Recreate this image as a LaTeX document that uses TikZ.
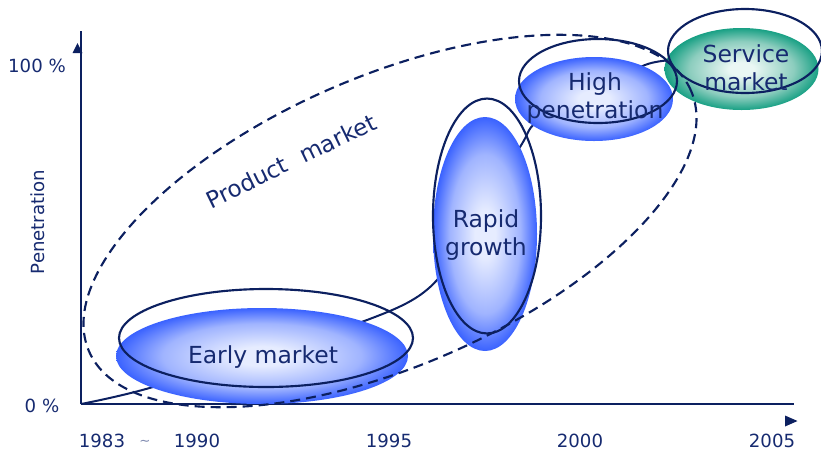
\documentclass[tikz,border=0pt]{standalone}
\usepackage{fontspec}
\setmainfont{DejaVu Sans}
\definecolor{navy}{RGB}{12,32,96}
\definecolor{txt}{RGB}{22,42,112}
\definecolor{bluein}{RGB}{230,236,255}
\definecolor{bluemid}{RGB}{160,180,255}
\definecolor{blueout}{RGB}{58,98,255}
\definecolor{tealin}{RGB}{234,247,244}
\definecolor{tealmid}{RGB}{140,205,190}
\definecolor{tealout}{RGB}{24,160,132}
\pgfdeclareradialshading{blueball}{\pgfpoint{0bp}{0bp}}{color(0bp)=(bluein); color(5bp)=(bluein); color(17bp)=(bluemid); color(25bp)=(blueout); color(50bp)=(blueout)}
\pgfdeclareradialshading{tealball}{\pgfpoint{0bp}{0bp}}{color(0bp)=(tealin); color(4bp)=(tealin); color(17bp)=(tealmid); color(25bp)=(tealout); color(50bp)=(tealout)}
\tikzset{
  outl/.style={draw=navy, line width=1.6pt},
  axisline/.style={draw=navy, line width=1.9pt},
  big/.style={text=txt, font=\fontsize{17.6}{21}\selectfont, align=center, inner sep=0pt},
  small/.style={text=txt, font=\fontsize{13.6}{16}\selectfont, inner sep=0pt},
}
\begin{document}
\begin{tikzpicture}[x=0.75pt,y=-0.75pt]
\useasboundingbox (0,0) rectangle (821,451);
% growth curve
\coordinate (c0) at (81,404);
\coordinate (c1) at (153,387);
\coordinate (c2) at (367,320);
\coordinate (c3) at (437,280);
\coordinate (c4) at (520,147);
\coordinate (c5) at (540,120);
\coordinate (c6) at (645,65);
\coordinate (c7) at (690,60);
\draw[navy, line width=1.5pt] plot[smooth, tension=0.4] coordinates {(c0) (c1) (c2) (c3) (c4) (c5) (c6) (c7)};
% axes
\coordinate (o) at (81,404);
\coordinate (ytop) at (81,31);
\coordinate (xend) at (794,404);
\draw[axisline] (o) -- (ytop);
\draw[axisline] (o) -- (xend);
\fill[navy] (77.5,43) -- (72.5,53) -- (82.5,53) -- cycle;
\fill[navy] (785,415.5) -- (797.5,421) -- (785,426.5) -- cycle;
% fills
\shade[shading=blueball] (262,356) ellipse [x radius=109.5pt, y radius=36pt];
\shade[shading=blueball] (485,234) ellipse [x radius=39pt, y radius=87.75pt];
\shade[shading=blueball] (594,99) ellipse [x radius=59.25pt, y radius=31.5pt];
\shade[shading=tealball] (741.5,69) ellipse [x radius=57.75pt, y radius=30.75pt];
% product market dashed ellipse
\draw[navy, line width=1.6pt, dash pattern=on 7.5pt off 4.5pt, rotate around={23.4:(390,221)}] (390,221) ellipse [x radius=246pt, y radius=108.75pt];
% outlines
\draw[outl] (266,338) ellipse [x radius=110.25pt, y radius=36.75pt];
\draw[outl] (487,216) ellipse [x radius=40.5pt, y radius=88.1pt];
\draw[outl] (598,81) ellipse [x radius=59.25pt, y radius=31.5pt];
\draw[outl] (745,51) ellipse [x radius=57.75pt, y radius=31.5pt];
% texts
\node[big] (early) at (263,357) {Early market};
\node[big] (rapid) at (486,235) {Rapid\\growth};
\node[big] (high) at (595,98) {High\\penetration};
\node[big] (service) at (746,68) {Service\\market};
\node[text=txt, font=\fontsize{17.3}{21}\selectfont, rotate=26, inner sep=0pt] (product) at (291,161) {Product\hspace{0.7em}market};
\node[small] (p100) at (37,66) {100 \%};
\node[small] (p0) at (42,406) {0 \%};
\node[small, rotate=90] (pen) at (38,222) {Penetration};
\node[small] (y83) at (102,441) {1983};
\node[text=txt!55, font=\fontsize{10}{12}\selectfont, inner sep=0pt] (tilde) at (145,443) {\textasciitilde};
\node[small] (y90) at (197,441) {1990};
\node[small] (y95) at (389,441) {1995};
\node[small] (y00) at (580,441) {2000};
\node[small] (y05) at (772,441) {2005};
\end{tikzpicture}
\end{document}
